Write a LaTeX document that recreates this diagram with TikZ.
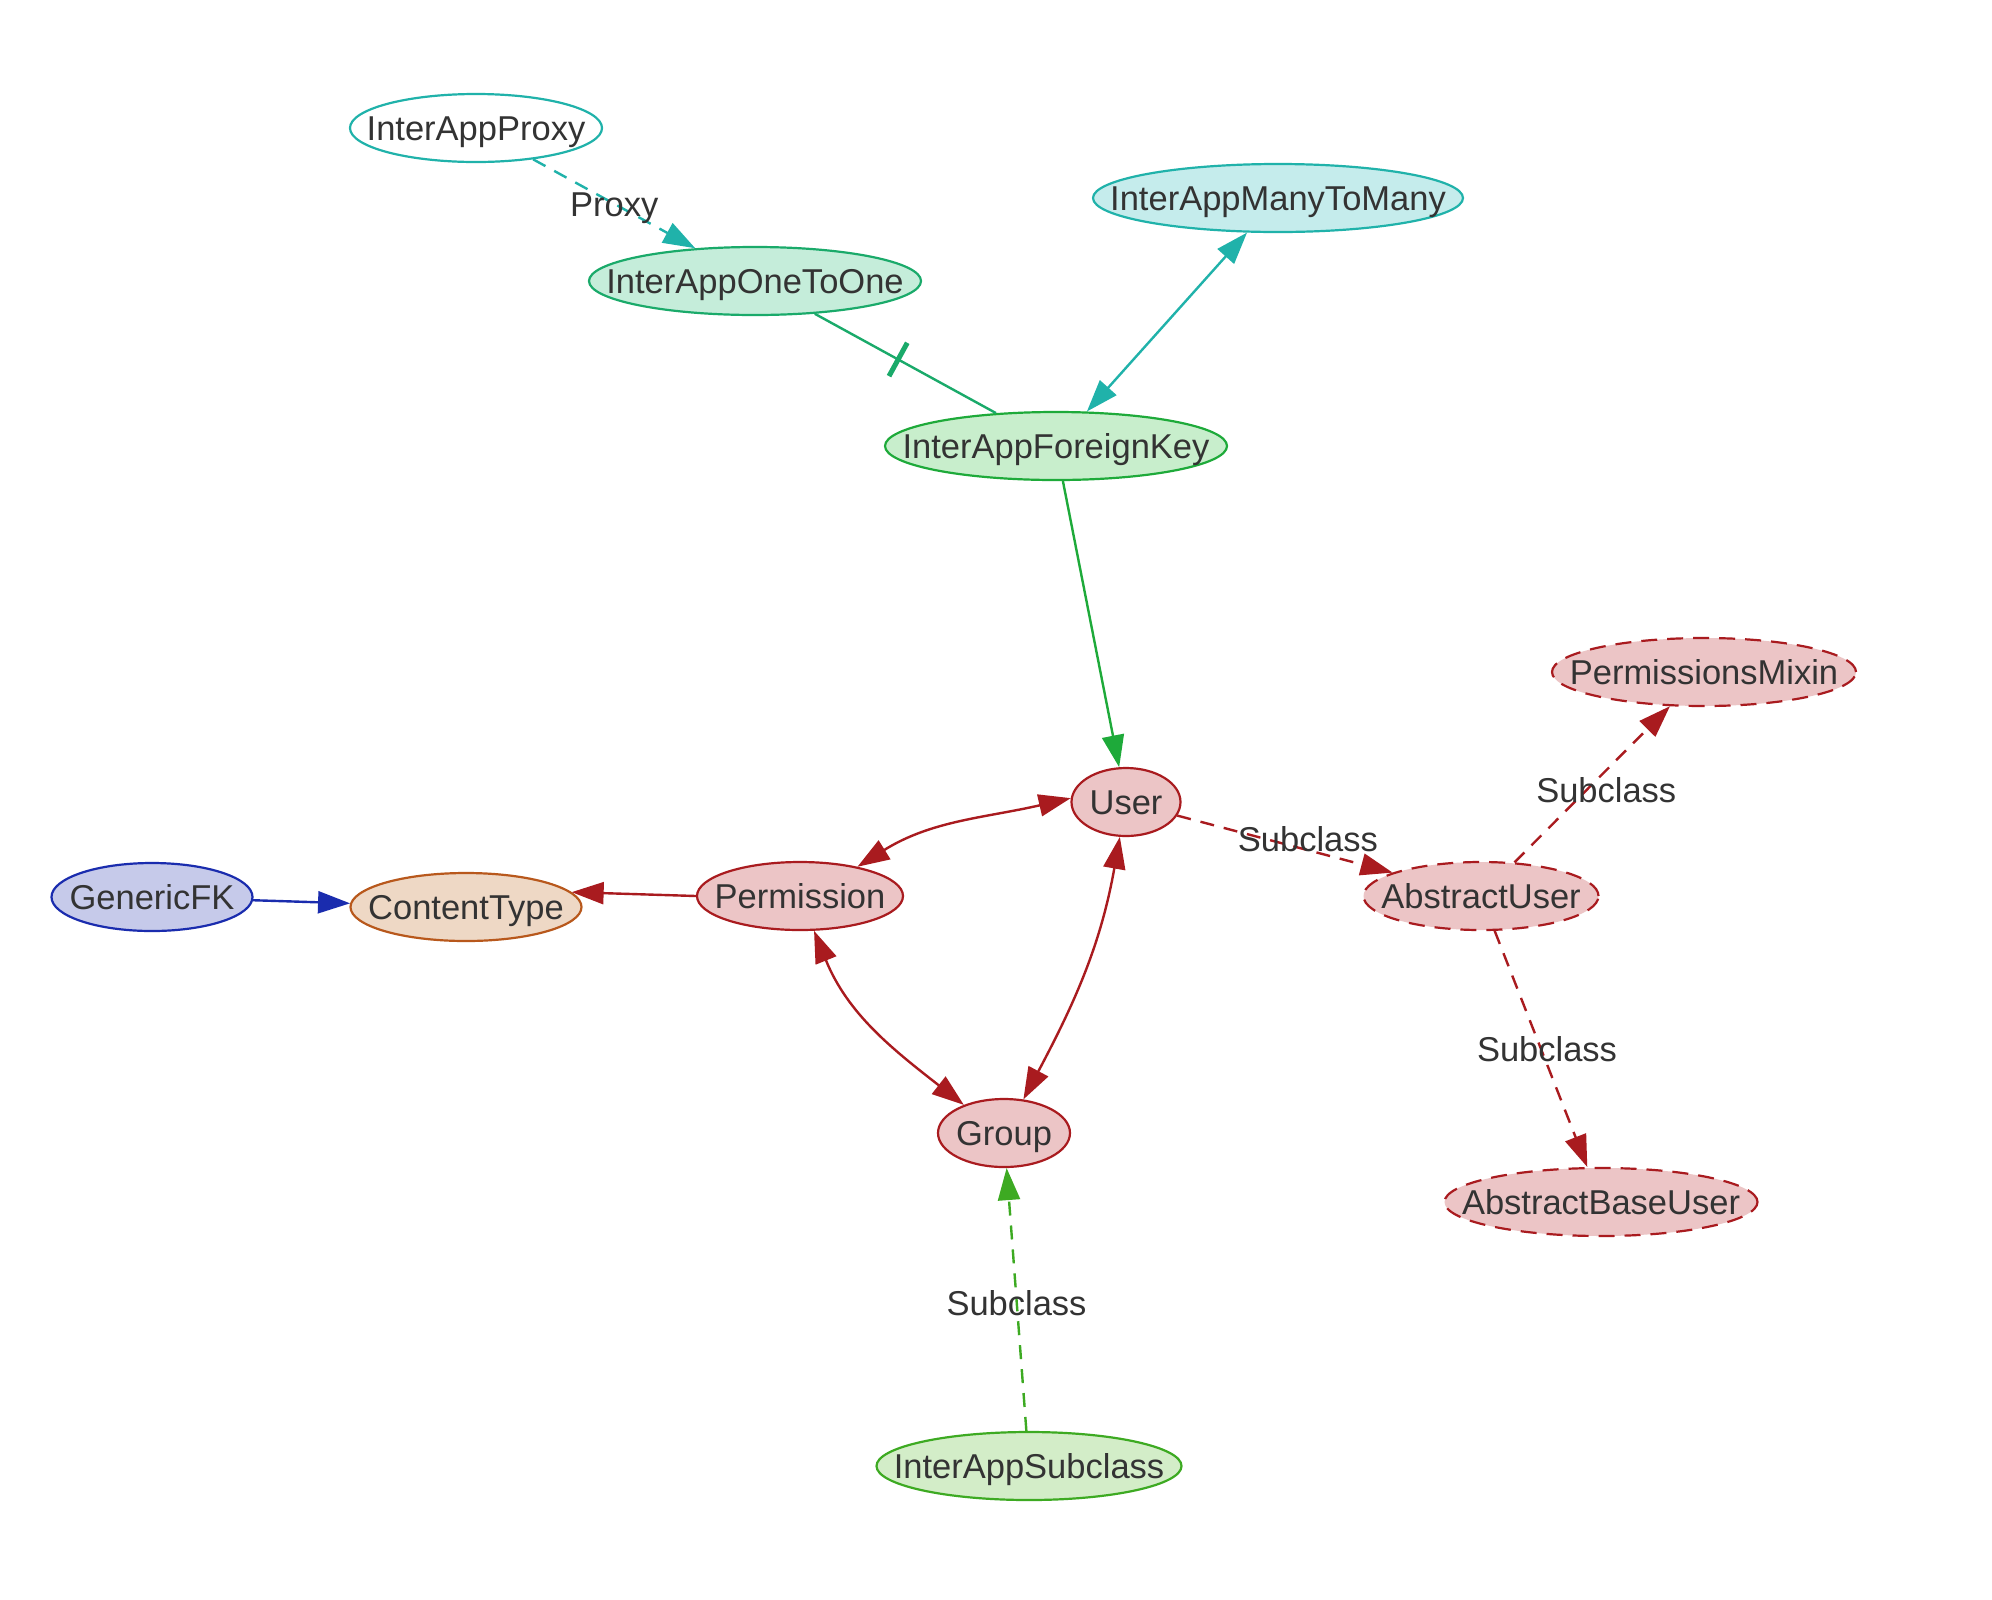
\documentclass[tikz,border=0pt]{standalone}
\usepackage{fontspec}
\setmainfont{Liberation Sans}
\usetikzlibrary{shapes.geometric,arrows.meta,decorations.markings}
\definecolor{txt}{HTML}{333333}
\definecolor{cteal}{HTML}{20B2AA}
\definecolor{ctealfill}{HTML}{C5ECEC}
\definecolor{cseag}{HTML}{1AAA6A}
\definecolor{cseagfill}{HTML}{C5EDDA}
\definecolor{cfk}{HTML}{1EAA3A}
\definecolor{cfkfill}{HTML}{C8EECC}
\definecolor{cred}{HTML}{A91B1F}
\definecolor{credfill}{HTML}{ECC5C6}
\definecolor{cbrown}{HTML}{B8581C}
\definecolor{cbrownfill}{HTML}{EED8C5}
\definecolor{cblue}{HTML}{1A2CAE}
\definecolor{cbluefill}{HTML}{C6CAEA}
\definecolor{clime}{HTML}{3DAA22}
\definecolor{climefill}{HTML}{D3EDC8}
\newcommand{\ctr}[1]{\makebox[0pt]{#1}}
\tikzset{
  ent/.style={ellipse, draw, line width=2.2pt, inner sep=0pt, minimum height=68pt,
    text height=24.7pt, text depth=0pt, text=txt, font=\fontsize{34.5}{40}\selectfont},
  abstractent/.style={ent, draw=cred, fill=credfill, dash pattern=on 16pt off 10pt},
  redent/.style={ent, draw=cred, fill=credfill},
  lbl/.style={inner sep=0pt, text height=24.7pt, text depth=0pt, text=txt,
    font=\fontsize{34.5}{40}\selectfont, midway},
  conn/.style={line width=2.4pt},
  dashconn/.style={conn, dash pattern=on 14pt off 10pt},
  tip/.style={-{Triangle[length=32pt,width=22pt]}},
  bitip/.style={{Triangle[length=32pt,width=22pt]}-{Triangle[length=32pt,width=22pt]}},
}
\begin{document}
\begin{tikzpicture}[x=1pt,y=1pt]
\fill[white, use as bounding box] (0,0) rectangle (1992,-1599);

\node[ent, draw=cteal, fill=white, minimum width=252pt] (proxy) at (476,-128) {\ctr{InterAppProxy}};
\node[ent, draw=cseag, fill=cseagfill, minimum width=332pt] (o2o) at (755,-281) {\ctr{InterAppOneToOne}};
\node[ent, draw=cteal, fill=ctealfill, minimum width=370pt] (m2m) at (1278,-198) {\ctr{InterAppManyToMany}};
\node[ent, draw=cfk, fill=cfkfill, minimum width=342pt] (fk) at (1056,-446) {\ctr{InterAppForeignKey}};
\node[redent, minimum width=109pt] (user) at (1126,-802) {\ctr{User}};
\node[redent, minimum width=206pt] (perm) at (800,-896) {\ctr{Permission}};
\node[ent, draw=cbrown, fill=cbrownfill, minimum width=231pt] (ct) at (466,-907) {\ctr{ContentType}};
\node[ent, draw=cblue, fill=cbluefill, minimum width=201pt] (gfk) at (152,-897) {\ctr{GenericFK}};
\node[abstractent, minimum width=235pt] (au) at (1481,-896) {\ctr{AbstractUser}};
\node[abstractent, minimum width=304pt] (pm) at (1704,-672) {\ctr{PermissionsMixin}};
\node[redent, minimum width=132pt] (group) at (1004,-1133) {\ctr{Group}};
\node[abstractent, minimum width=313pt] (abu) at (1601,-1202) {\ctr{AbstractBaseUser}};
\node[ent, draw=clime, fill=climefill, minimum width=305pt] (ias) at (1029,-1466) {\ctr{InterAppSubclass}};

\draw[dashconn, tip, draw=cteal] (proxy) -- node[lbl] (lproxy) {Proxy} (o2o);
\draw[conn, draw=cseag, postaction={decorate},
  decoration={markings, mark=at position 0.46 with {\draw[cseag, line width=5pt] (0pt,-19pt) -- (0pt,19pt);}}] (o2o) -- (fk);
\draw[conn, bitip, draw=cteal] (fk) -- (m2m);
\draw[conn, tip, draw=cfk] (fk) -- (user);
\draw[conn, bitip, draw=cred] (perm.27) to[out=32, in=193] (user.176);
\draw[conn, tip, draw=cred] (perm.west) -- (ct.8);
\draw[conn, tip, draw=cblue] (gfk) -- (ct);
\draw[conn, bitip, draw=cred] (perm.-68) to[out=-68, in=142] (group.145);
\draw[conn, bitip, draw=cred] (user.-100) to[out=-100, in=62] (group.60);
\draw[dashconn, tip, draw=cred] (user) -- node[lbl, xshift=23pt, yshift=5pt] (lsub1) {Subclass} (au);
\draw[dashconn, tip, draw=cred] (au) -- node[lbl, xshift=14pt, yshift=-6pt] (lsub2) {Subclass} (pm);
\draw[dashconn, tip, draw=cred] (au) -- node[lbl, xshift=6pt] (lsub3) {Subclass} (abu);
\draw[dashconn, tip, draw=clime] (ias) -- node[lbl, yshift=-4pt] (lsub4) {Subclass} (group);
\end{tikzpicture}
\end{document}
